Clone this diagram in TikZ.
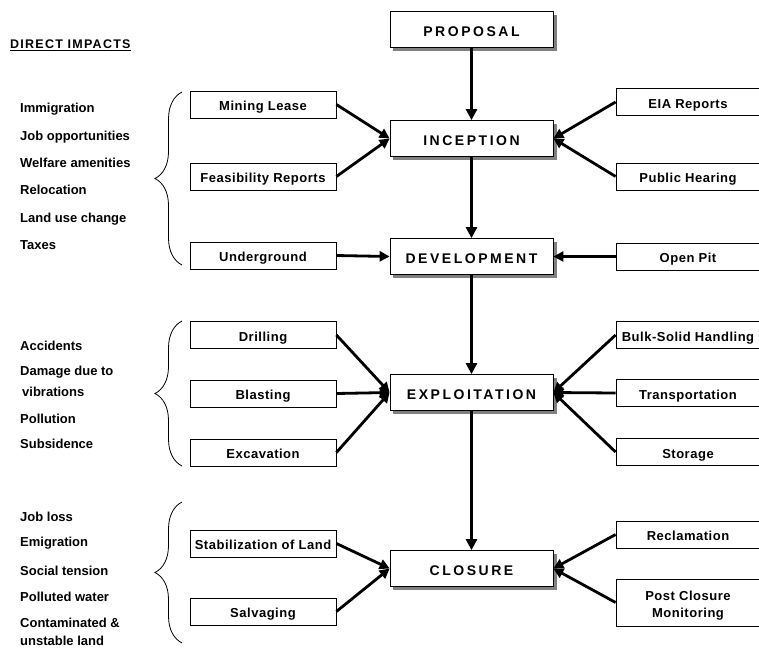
\documentclass[tikz,border=0pt]{standalone}
\usepackage{fontspec}
\setmainfont{Liberation Sans}
\newfontfamily\stagefont[LetterSpace=18]{Liberation Sans}
\newfontfamily\taskfont[LetterSpace=4]{Liberation Sans}
\newfontfamily\headfont[LetterSpace=10]{Liberation Sans}
\usetikzlibrary{arrows.meta,%
                backgrounds,%
                decorations.pathreplacing}

\begin{document}
\begin{tikzpicture}[x=1pt,y=-1pt]
  \tikzstyle{stage}=[draw,line width=0.8pt,fill=white,minimum width=163pt,minimum height=36pt,
    text height=13pt,text depth=0pt,font=\stagefont\bfseries\fontsize{14}{16}\selectfont]
  \tikzstyle{shade}=[fill=black!50]
  \tikzstyle{task}=[draw,line width=0.8pt,minimum height=27pt,inner sep=1pt,align=center,
    text height=12.9pt,text depth=0pt,font=\taskfont\bfseries\fontsize{13}{17}\selectfont]
  \tikzstyle{impact}=[anchor=west,inner sep=0pt,text height=9.3pt,text depth=0pt,
    font=\bfseries\fontsize{13}{15}\selectfont]
  \tikzstyle{flow}=[line width=3.5pt,-{Triangle[length=11pt,width=11pt]}]
  \tikzstyle{link}=[line width=2.8pt,-{Triangle[length=10pt,width=10pt]}]
  \tikzstyle{group}=[line width=0.8pt,decorate,decoration={brace,amplitude=27pt}]
  \useasboundingbox (0,0) rectangle (759,648);
  % stages
  \node[stage] (S_1) at (471.5,29.5)  {PROPOSAL};
  \node[stage] (S_2) at (471.5,138.5) {INCEPTION};
  \node[stage] (S_3) at (471.5,256.5) {DEVELOPMENT};
  \node[stage] (S_4) at (471.5,392.5) {EXPLOITATION};
  \node[stage] (S_5) at (471.5,568.5) {CLOSURE};
  \begin{scope}[on background layer]
    \foreach \s in {S_1,S_2,S_3,S_4,S_5}
      \fill[shade] ([xshift=3.5pt,yshift=-3.5pt]\s.south west) rectangle ([xshift=3.5pt,yshift=-3.5pt]\s.north east);
  \end{scope}
  \draw[flow] (S_1) -- (S_2);
  \draw[flow] (S_2) -- (S_3);
  \draw[flow] (S_3) -- (S_4);
  \draw[flow] (S_4) -- (S_5);
  % left tasks
  \node[task,minimum width=146pt] (L_1) at (263,104.5) {Mining Lease};
  \node[task,minimum width=146pt] (L_2) at (263,176.5) {Feasibility Reports};
  \node[task,minimum width=146pt] (L_3) at (263,255.5) {Underground};
  \node[task,minimum width=146pt] (L_4) at (263,335)   {Drilling};
  \node[task,minimum width=146pt] (L_5) at (263,393.5) {Blasting};
  \node[task,minimum width=146pt] (L_6) at (263,452.5) {Excavation};
  \node[task,minimum width=146pt] (L_7) at (263,543.5) {Stabilization of Land};
  \node[task,minimum width=146pt] (L_8) at (263,611.5) {Salvaging};
  % right tasks
  \node[task,minimum width=144pt] (R_1) at (688,102)   {EIA Reports};
  \node[task,minimum width=144pt] (R_2) at (688,176.5) {Public Hearing};
  \node[task,minimum width=144pt] (R_3) at (688,256.5) {Open Pit};
  \node[task,minimum width=144pt] (R_4) at (688,335)   {Bulk-Solid Handling};
  \node[task,minimum width=144pt] (R_5) at (688,393)   {Transportation};
  \node[task,minimum width=144pt] (R_6) at (688,452)   {Storage};
  \node[task,minimum width=144pt] (R_7) at (688,534.5) {Reclamation};
  \node[task,minimum width=144pt,minimum height=47pt,text height=30pt] (R_8) at (688,602.5) {Post Closure\\Monitoring};
  \draw[link] (L_1.east) -- (S_2.west);
  \draw[link] (L_2.east) -- (S_2.west);
  \draw[link] (R_1.west) -- (S_2.east);
  \draw[link] (R_2.west) -- (S_2.east);
  \draw[link] (L_3.east) -- (S_3.west);
  \draw[link] (R_3.west) -- (S_3.east);
  \draw[link] (L_4.east) -- (S_4.west);
  \draw[link] (L_5.east) -- (S_4.west);
  \draw[link] (L_6.east) -- (S_4.west);
  \draw[link] (R_4.west) -- (S_4.east);
  \draw[link] (R_5.west) -- (S_4.east);
  \draw[link] (R_6.west) -- (S_4.east);
  \draw[link] (L_7.east) -- (S_5.west);
  \draw[link] (L_8.east) -- (S_5.west);
  \draw[link] (R_7.west) -- (S_5.east);
  \draw[link] (R_8.west) -- (S_5.east);
  % direct impacts
  \node[impact,font=\headfont\bfseries\fontsize{12.5}{14}\selectfont] (T) at (10,44) {\underline{DIRECT IMPACTS}};
  \node[impact] (I_1) at (20,108) {Immigration};
  \node[impact] (I_2) at (20,136) {Job opportunities};
  \node[impact] (I_3) at (20,163) {Welfare amenities};
  \node[impact] (I_4) at (20,190) {Relocation};
  \node[impact] (I_5) at (20,218) {Land use change};
  \node[impact] (I_6) at (20,245) {Taxes};
  \node[impact] (I_7) at (20,346) {Accidents};
  \node[impact] (I_8) at (20,371) {Damage due to};
  \node[impact] (I_9) at (22,392) {vibrations};
  \node[impact] (I_10) at (20,419) {Pollution};
  \node[impact] (I_11) at (20,444) {Subsidence};
  \node[impact] (I_12) at (20,517) {Job loss};
  \node[impact] (I_13) at (20,542) {Emigration};
  \node[impact] (I_14) at (20,571) {Social tension};
  \node[impact] (I_15) at (20,597) {Polluted water};
  \node[impact] (I_16) at (20,623) {Contaminated \&};
  \node[impact] (I_17) at (20,641) {unstable land};
  \draw[group] (182,265) -- (182,92);
  \draw[group] (182,466) -- (182,321);
  \draw[group] (182,643) -- (182,502);
\end{tikzpicture}
\end{document}
